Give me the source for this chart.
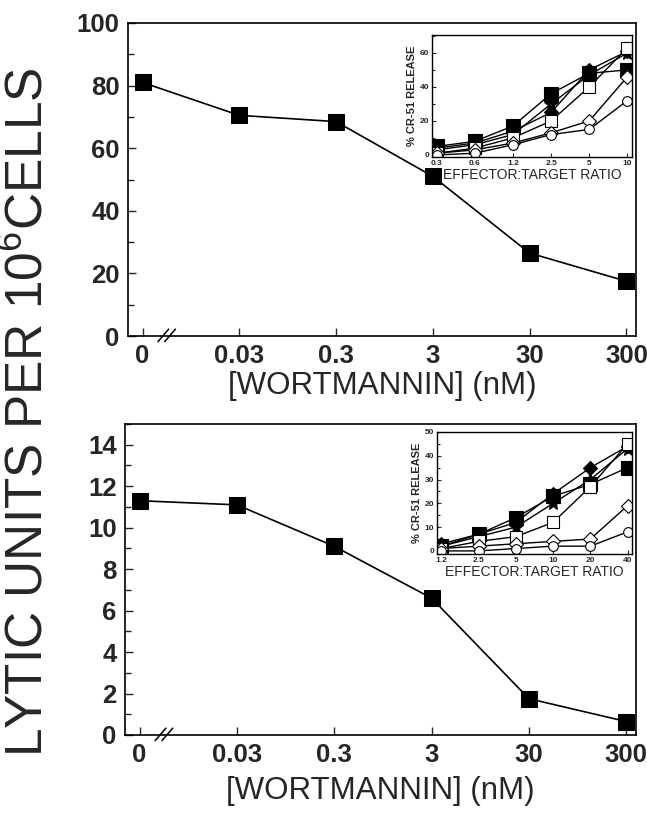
import numpy as np, pandas as pd, matplotlib
matplotlib.use('Agg')
import matplotlib.pyplot as plt, seaborn as sns
from matplotlib.ticker import MultipleLocator
import matplotlib.transforms as mtransforms

sns.set_theme(style='ticks')
plt.rcParams['font.family'] = ['Liberation Sans', 'DejaVu Sans']
plt.rcParams['mathtext.default'] = 'regular'

# main panels: lytic units vs wortmannin
wort_labels = ['0', '0.03', '0.3', '3', '30', '300']
lu_top = [81, 70.5, 68.5, 51, 26.5, 17.5]
lu_bottom = [11.3, 11.1, 9.1, 6.6, 1.75, 0.65]

# inset top: % Cr-51 release vs E:T ratio
et_top = ['0.3', '0.6', '1.2', '2.5', '5', '10']
top_fsq = [5, 8, 17, 36, 48, 50]
top_fdi = [4, 7, 14, 25, 50, 61]
top_fst = [3, 6, 12, 30, 47, 60]
top_osq = [1, 4, 10, 20, 40, 63]
top_odi = [1, 3, 7, 13, 20, 46]
top_oci = [0, 1, 6, 12, 15, 32]

# inset bottom
et_bottom = ['1.2', '2.5', '5', '10', '20', '40']
bot_fsq = [2, 7, 14, 23, 28, 35]
bot_fdi = [3, 7, 12, 24, 35, 44]
bot_fst = [2, 6, 10, 20, 30, 43]
bot_osq = [1, 4, 6, 12, 27, 45]
bot_odi = [1, 2, 3, 4, 5, 19]
bot_oci = [0, 0, 1, 2, 2, 8]

W, H = 647, 819
fig = plt.figure(figsize=(W / 100, H / 100), dpi=100)

def box(l, r, t, b):
    return [l / W, 1 - b / H, (r - l) / W, (b - t) / H]

def main_panel(ax, vals, ymax, major, minor, lpad):
    x = np.arange(len(wort_labels))
    sns.lineplot(x=x, y=vals, ax=ax, color='black', lw=1.2, marker='s',
                 markersize=11, markeredgecolor='black', markerfacecolor='black')
    ax.set_xlim(-0.15, 5.1)
    ax.set_ylim(0, ymax)
    ax.set_xticks(x)
    ax.set_xticklabels(wort_labels)
    ax.yaxis.set_major_locator(MultipleLocator(major))
    ax.yaxis.set_minor_locator(MultipleLocator(minor))
    ax.tick_params(direction='in', length=6, width=1, labelsize=18.5, pad=6)
    ax.tick_params(which='minor', direction='in', length=4, width=1)
    ax.tick_params(axis='y', which='both', right=False)
    for lab in ax.get_xticklabels() + ax.get_yticklabels():
        lab.set_fontweight('bold')
    for s in ax.spines.values():
        s.set_linewidth(1.2)
        s.set_color('black')
    ax.set_xlabel('[WORTMANNIN] (nM)', fontsize=22.5, labelpad=lpad)
    # axis break mark
    tr = mtransforms.blended_transform_factory(ax.transData, ax.transAxes)
    for dx in (0.0, 0.07):
        ax.plot([0.16 + dx, 0.27 + dx], [-0.018, 0.022], color='black', lw=1.1,
                transform=tr, clip_on=False)

def inset(ax, labels, series, ymax, ystep, ymin):
    x = np.arange(len(labels))
    styles = [('s', 'black', 10), ('D', 'black', 7), ('*', 'black', 11),
              ('s', 'white', 9), ('D', 'white', 7), ('o', 'white', 7)]
    for vals, (m, fc, ms) in zip(series, styles):
        sns.lineplot(x=x, y=vals, ax=ax, color='black', lw=1.0, marker=m,
                     markersize=ms, markerfacecolor=fc, markeredgecolor='black',
                     markeredgewidth=0.8)
    ax.set_xlim(x[0] - 0.12, x[-1] + 0.12)
    ax.set_ylim(ymin, ymax)
    ax.set_xticks(x)
    ax.set_xticklabels(labels)
    ax.yaxis.set_major_locator(MultipleLocator(ystep))
    ax.yaxis.set_minor_locator(MultipleLocator(ystep / 2))
    ax.tick_params(direction='in', length=3, width=0.8, labelsize=6, pad=2)
    ax.tick_params(which='minor', direction='in', length=2, width=0.8)
    for lab in ax.get_xticklabels() + ax.get_yticklabels():
        lab.set_fontweight('bold')
    for s in ax.spines.values():
        s.set_linewidth(1)
        s.set_color('black')
    ax.set_xlabel('EFFECTOR:TARGET RATIO', fontsize=10, labelpad=1)
    ax.set_ylabel('% CR-51 RELEASE', fontsize=8, fontweight='bold', labelpad=2)

ax1 = fig.add_axes(box(128, 636, 23, 336))
main_panel(ax1, lu_top, 100, 20, 10, 2)
ax2 = fig.add_axes(box(125, 636, 424, 735))
main_panel(ax2, lu_bottom, 15, 2, 1, 6)

in1 = fig.add_axes(box(432, 632, 35, 157))
inset(in1, et_top, [top_fsq, top_fdi, top_fst, top_osq, top_odi, top_oci], 70.5, 20, -1.2)
in1.set_yticks([0, 20, 40, 60])
in2 = fig.add_axes(box(437, 632, 432, 554))
inset(in2, et_bottom, [bot_fsq, bot_fdi, bot_fst, bot_osq, bot_odi, bot_oci], 50, 10, -1.3)

fig.text(29 / W, 1 - 412 / H, 'LYTIC UNITS PER 10$^6$CELLS', rotation=90,
         fontsize=37, ha='center', va='center')

fig.savefig('out.png', dpi=100)
